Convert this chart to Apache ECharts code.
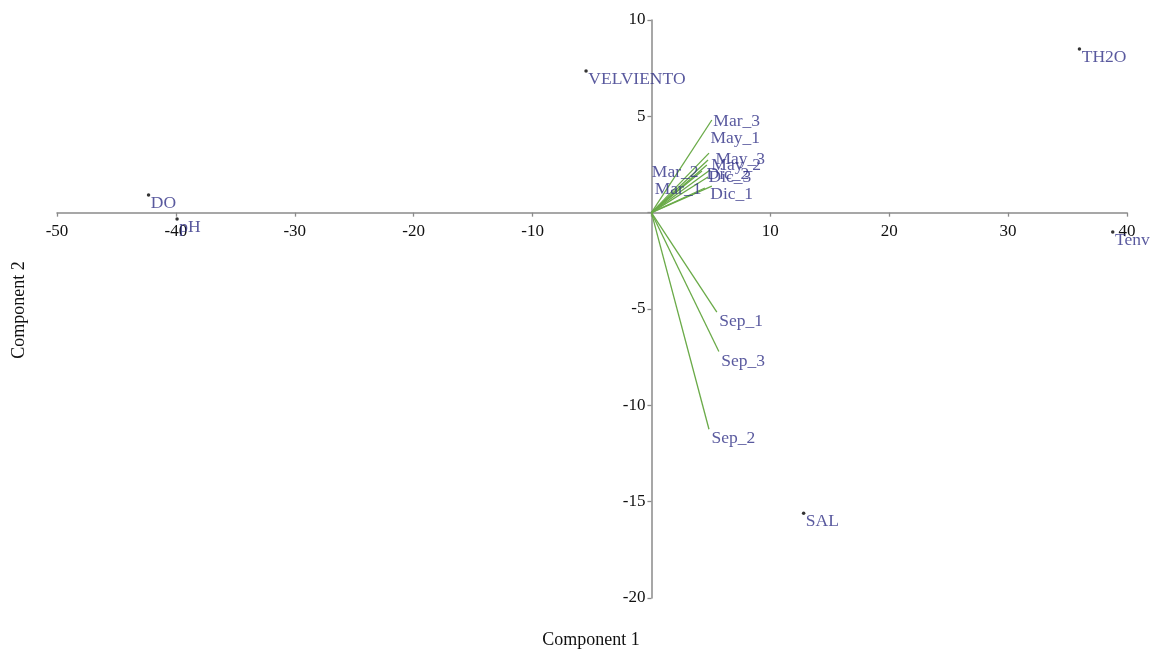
<!DOCTYPE html>
<html>
<head>
<meta charset="utf-8">
<script src="https://cdn.jsdelivr.net/npm/echarts@6/dist/echarts.min.js"></script>
<style>html,body{margin:0;padding:0;background:#fff}#c{width:1152px;height:650px}</style>
</head>
<body>
<div id="c"></div>
<script>
// Variable points (scores)
const pointNames = ['DO', 'pH', 'VELVIENTO', 'TH2O', 'Tenv', 'SAL'];
const pointX = [-42.3, -39.9, -5.5, 36.0, 38.8, 12.8];
const pointY = [0.92, -0.33, 7.35, 8.5, -1.0, -15.6];

// Loading vectors (sample ends)
const vectorNames = ['Mar_3', 'May_1', 'May_3', 'May_2', 'Dic_2', 'Dic_3', 'Dic_1', 'Mar_2', 'Mar_1', 'Sep_1', 'Sep_3', 'Sep_2'];
const vectorX = [5.08, 4.84, 4.76, 4.66, 4.93, 4.76, 5.08, 4.25, 4.5, 5.5, 5.67, 4.84];
const vectorY = [4.81, 3.09, 2.73, 2.47, 2.21, 1.85, 1.38, 2.16, 1.28, -5.16, -7.21, -11.24];

const xTicks = { min: -50, max: 40, interval: 10 };
const yTicks = { min: -20, max: 10, interval: 5 };

// label placement tweaks (pixels) for crowded labels
const labelNudge = {
  'Mar_3': [2, 2], 'May_1': [2, -14], 'May_3': [8, 0], 'May_2': [5, 1],
  'Dic_2': [-3, 5], 'Dic_3': [1, 1], 'Dic_1': [-1, 9]
};
const leftLabelNames = ['Mar_1', 'Mar_2'];

const FONT = 'Liberation Serif';
const TXT = '#2f2f86';
const GREEN = '#6aaa48';
const AXIS = '#8a8a8a';

const GRID = { left: 57, right: 25, top: 20, bottom: 52 };
const W = 1152, H = 650;
const plotW = W - GRID.left - GRID.right;
const plotH = H - GRID.top - GRID.bottom;
// place axes through the origin
const yAxisOffset = -((0 - xTicks.min) / (xTicks.max - xTicks.min) * plotW);
const xAxisOffset = -((0 - yTicks.min) / (yTicks.max - yTicks.min) * plotH);

const hideZero = v => (v === 0 ? '' : String(v));

const lineSeries = vectorNames.map((n, i) => ({
  type: 'line', name: n, data: [[0, 0], [vectorX[i], vectorY[i]]],
  symbol: 'none', silent: true, z: 3,
  lineStyle: { color: GREEN, width: 1.3 }
}));

const vecLabelData = vectorNames.map((n, i) => {
  const item = { name: n, value: [vectorX[i], vectorY[i]] };
  if (vectorY[i] < 0) {
    item.label = { position: [3, 1], align: 'left', verticalAlign: 'top' };
  } else if (leftLabelNames.includes(n)) {
    item.label = { position: [-3, 2], align: 'right', verticalAlign: 'middle' };
  } else {
    const d = labelNudge[n] || [3, 2];
    item.label = { position: [d[0], d[1]], align: 'left', verticalAlign: 'middle' };
  }
  return item;
});

const pointData = pointNames.map((n, i) => ({ name: n, value: [pointX[i], pointY[i]] }));

const chart = echarts.init(document.getElementById('c'));
chart.setOption({
  animation: false,
  backgroundColor: '#fff',
  grid: GRID,
  xAxis: {
    type: 'value', min: xTicks.min, max: xTicks.max, interval: xTicks.interval,
    position: 'bottom', offset: xAxisOffset,
    axisLine: { onZero: false, lineStyle: { color: AXIS, width: 1.5 } },
    axisTick: { show: true, inside: false, length: 4, lineStyle: { color: AXIS, width: 1.3 } },
    axisLabel: { color: '#111', fontFamily: FONT, fontSize: 17, margin: 10, formatter: hideZero },
    splitLine: { show: false }
  },
  yAxis: {
    type: 'value', min: yTicks.min, max: yTicks.max, interval: yTicks.interval,
    position: 'left', offset: yAxisOffset,
    axisLine: { onZero: false, lineStyle: { color: AXIS, width: 1.5 } },
    axisTick: { show: true, inside: false, length: 4, lineStyle: { color: AXIS, width: 1.3 } },
    axisLabel: { color: '#111', fontFamily: FONT, fontSize: 17, margin: 6, formatter: hideZero },
    splitLine: { show: false }
  },
  graphic: [
    { type: 'text', x: 591, y: 640, style: { text: 'Component 1', font: '18px "Liberation Serif"', fill: '#111', textAlign: 'center', textVerticalAlign: 'middle' } },
    { type: 'text', x: 19, y: 310, rotation: Math.PI / 2, style: { text: 'Component 2', font: '18px "Liberation Serif"', fill: '#111', textAlign: 'center', textVerticalAlign: 'middle' } }
  ],
  series: [
    ...lineSeries,
    {
      type: 'scatter', data: vecLabelData, symbol: 'circle', symbolSize: 1, z: 4,
      itemStyle: { color: 'rgba(0,0,0,0)' },
      label: { show: true, formatter: '{b}', color: TXT, fontFamily: FONT, fontSize: 17.5 }
    },
    {
      type: 'scatter', data: pointData, symbol: 'circle', symbolSize: 3.5, z: 5,
      itemStyle: { color: '#000' },
      label: { show: true, formatter: '{b}', position: [4, 1], align: 'left', verticalAlign: 'top', color: TXT, fontFamily: FONT, fontSize: 17.5 }
    }
  ]
});
</script>
</body>
</html>
